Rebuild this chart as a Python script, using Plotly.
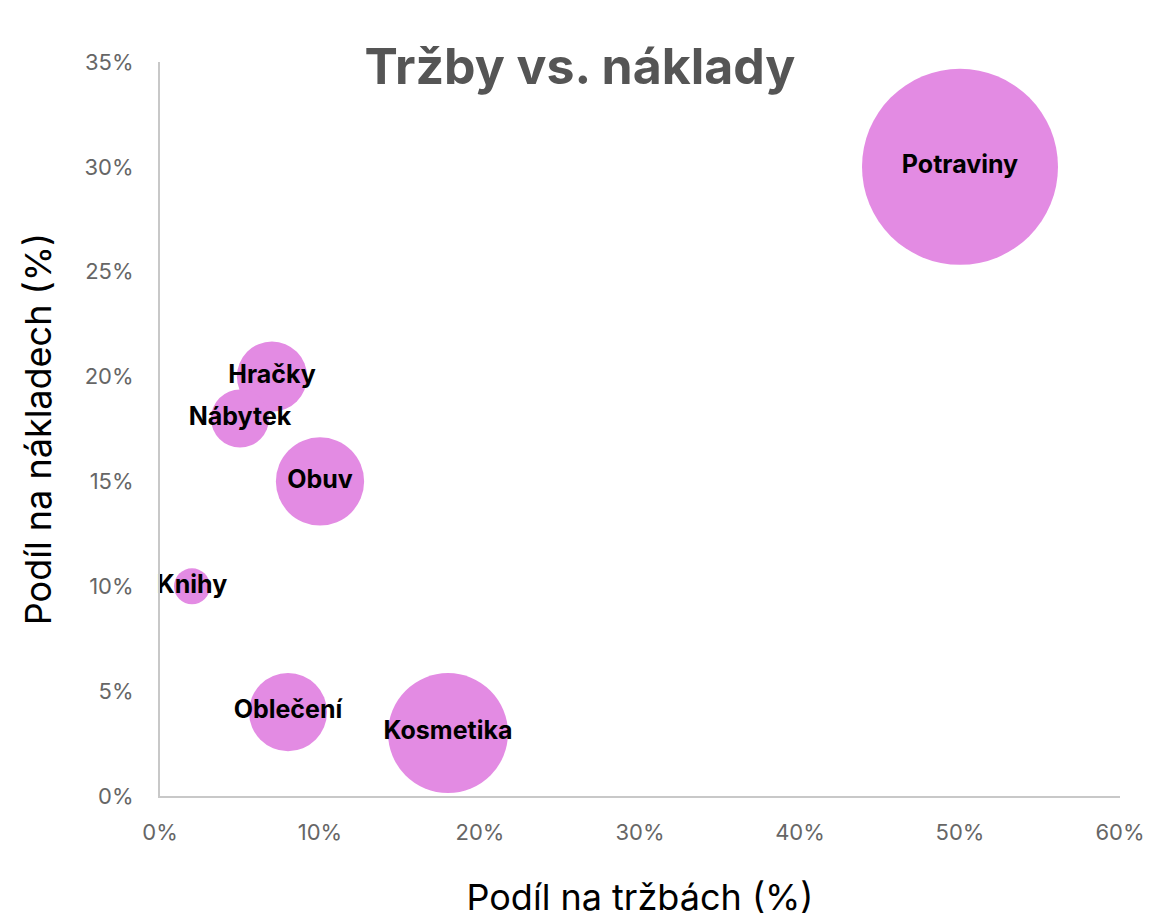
import plotly.graph_objects as go

# podíly v procentech
kategorie = ["Potraviny", "Hračky", "Nábytek", "Obuv", "Knihy", "Oblečení", "Kosmetika"]
podil_trzby = [50, 7, 5, 10, 2, 8, 18]
podil_naklady = [30, 20, 18, 15, 10, 4, 3]
velikost = [29.6, 3.8, 2.6, 6.0, 1.0, 4.7, 11.1]

max_diameter = 196
font_family = "Inter, Lato, sans-serif"
fig_height = 916

fig = go.Figure(
    go.Scatter(
        x=podil_trzby,
        y=podil_naklady,
        mode="markers+text",
        text=kategorie,
        textposition="middle center",
        textfont=dict(family=font_family, size=25, color="#000000", weight="bold"),
        marker=dict(
            size=velikost,
            sizemode="area",
            sizeref=2.0 * max(velikost) / max_diameter**2,
            color="#E38BE3",
            opacity=1,
            line=dict(width=0),
        ),
        cliponaxis=False,
        hovertemplate="%{text}<br>Tržby: %{x}%<br>Náklady: %{y}%<extra></extra>",
    )
)

fig.update_layout(
    width=1144,
    height=fig_height,
    margin=dict(l=152, r=32, t=54, b=128),
    paper_bgcolor="white",
    plot_bgcolor="white",
    showlegend=False,
    font=dict(family=font_family),
    title=dict(
        text="Tržby vs. náklady",
        x=0.5,
        xref="container",
        xanchor="center",
        y=1 - 58 / fig_height,
        yref="container",
        yanchor="middle",
        font=dict(family=font_family, size=50, color="#555555", weight="bold"),
    ),
)

fig.update_xaxes(
    range=[0, 60],
    dtick=10,
    ticksuffix="%",
    showgrid=False,
    zeroline=False,
    showline=True,
    linecolor="#c8c8c8",
    linewidth=2,
    ticks="",
    automargin=False,
    ticklabelstandoff=16,
    tickfont=dict(size=22, color="#666666"),
    title=dict(text="Podíl na tržbách (%)", font=dict(size=36, color="#000000"), standoff=40),
)
fig.update_yaxes(
    range=[0, 35],
    dtick=5,
    ticksuffix="%",
    showgrid=False,
    zeroline=False,
    showline=True,
    linecolor="#c8c8c8",
    linewidth=2,
    ticks="",
    ticklabelstandoff=20,
    tickfont=dict(size=22, color="#666666"),
    title=dict(text="Podíl na nákladech (%)", font=dict(size=36, color="#000000"), standoff=22),
)

fig.write_html("out.html")
